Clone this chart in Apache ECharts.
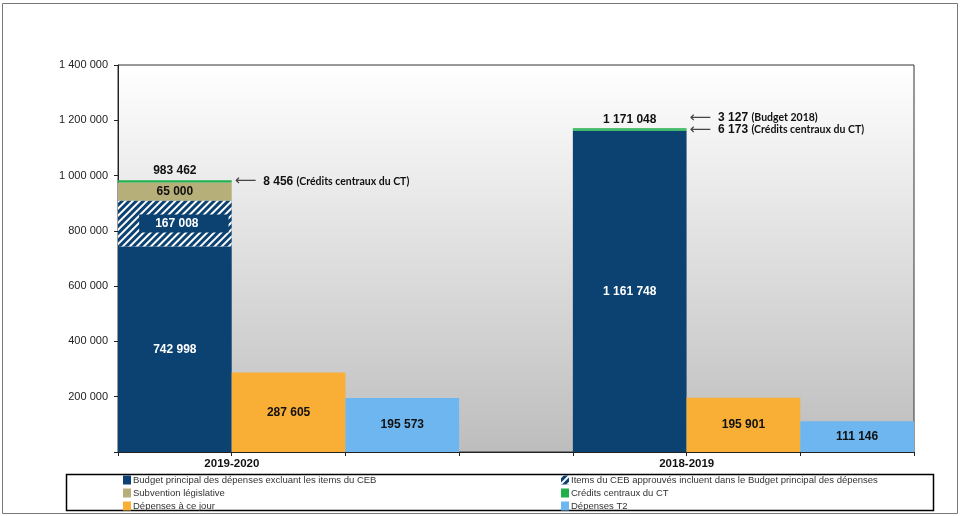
<!DOCTYPE html>
<html>
<head>
<meta charset="utf-8">
<script src="https://cdn.jsdelivr.net/npm/echarts@6/dist/echarts.min.js"></script>
<style>
  html, body { margin: 0; padding: 0; background: #fff; }
  #container { width: 960px; height: 516px; }
</style>
</head>
<body>
<div id="container"></div>
<script>
// 7 slots : 3 bars for each year, one empty slot between the groups
let slots = ['', '', '', '', '', '', ''];
let yearLabels = ['2019-2020', '', '', '', '2018-2019', '', ''];

let budgetPrincipal = [742998, null, null, null, 1161748, null, null];
let itemsCEB        = [167008, null, null, null, null, null, null];
let subvention      = [65000, null, null, null, null, null, null];
let creditsCT       = [8456, null, null, null, 6173, null, null];
let budget2018      = [null, null, null, null, 3127, null, null];
let depensesJour    = [null, 287605, null, null, null, 195901, null];
let depensesT2      = [null, null, 195573, null, null, null, 111146];

let navy = '#0c4271', khaki = '#b7af7a', green = '#1fb04c',
    orange = '#f9ae36', lightBlue = '#6db6f0';

function fmt(v) {
    return String(v).replace(/\B(?=(\d{3})+(?!\d))/g, ' ');
}

let totals = slots.map((s, i) => {
    let parts = [budgetPrincipal, itemsCEB, subvention, creditsCT, budget2018];
    let t = 0;
    parts.forEach(p => { t += p[i] || 0; });
    return t;
});
let totalData = totals.map(t => t ? 0 : null);

let dom = document.getElementById('container');
let chart = echarts.init(dom);

let barBase = { type: 'bar', stack: 'all', barWidth: '100%', barGap: '0%' };
let numLabel = {
    show: true, position: 'inside', fontFamily: 'Liberation Sans',
    fontWeight: 'bold', fontSize: 12, color: '#111',
    formatter: p => fmt(p.value)
};
let noteRich = {
    arr: { fontFamily: 'DejaVu Sans', fontSize: 15, color: '#444', padding: [0, 7, 0, 0] },
    num: { fontFamily: 'Liberation Sans', fontWeight: 'bold', fontSize: 12, color: '#111' },
    txt: { fontFamily: 'Lato', fontWeight: 'bold', fontSize: 10.5, color: '#111' }
};
let legendText = {
    fontFamily: 'Liberation Sans Narrow, Liberation Sans', fontSize: 9.5,
    color: '#333', padding: [0, 0, 0, -3]
};

chart.setOption({
    animation: false,
    textStyle: { fontFamily: 'Liberation Sans' },
    graphic: [
        { type: 'rect', shape: { x: 2.5, y: 3.5, width: 955, height: 510 },
          style: { fill: null, stroke: '#777', lineWidth: 1 }, z: -10 },
        { type: 'rect', shape: { x: 66.5, y: 474.5, width: 867, height: 36 },
          style: { fill: null, stroke: '#000', lineWidth: 1.5 } }
    ],
    grid: {
        left: 118, right: 46, top: 65, bottom: 64,
        show: true, borderColor: '#333', borderWidth: 1,
        backgroundColor: new echarts.graphic.LinearGradient(0, 0, 0, 1, [
            { offset: 0, color: '#ffffff' },
            { offset: 1, color: '#bdbdbd' }
        ])
    },
    legend: [
        {
            orient: 'vertical', left: 123, top: 475, padding: 0,
            icon: 'rect', itemWidth: 8, itemHeight: 9, itemGap: 3,
            textStyle: legendText,
            data: ['Budget principal des dépenses excluant les items du CEB',
                   'Subvention législative', 'Dépenses à ce jour']
        },
        {
            orient: 'vertical', left: 561, top: 475, padding: 0,
            icon: 'rect', itemWidth: 8, itemHeight: 9, itemGap: 3,
            textStyle: legendText,
            data: ['Items du CEB approuvés incluent dans le Budget principal des dépenses',
                   'Crédits centraux du CT', 'Dépenses T2']
        }
    ],
    xAxis: {
        type: 'category',
        data: yearLabels,
        axisLine: { lineStyle: { color: '#222' } },
        axisTick: { show: true, length: 4, interval: 0, lineStyle: { color: '#222' } },
        axisLabel: {
            interval: 0, margin: 6,
            formatter: v => v ? '{y|' + v + '}' : '',
            rich: { y: { fontWeight: 'bold', fontSize: 11.5, color: '#111', padding: [0, 0, 0, 114] } }
        }
    },
    yAxis: {
        type: 'value', min: 0, max: 1400000, interval: 200000,
        splitLine: { show: false },
        axisLine: { show: true, lineStyle: { color: '#222' } },
        axisTick: { show: true, length: 4, lineStyle: { color: '#222' } },
        axisLabel: {
            fontSize: 11, color: '#222', margin: 10,
            formatter: v => v === 0 ? '' : fmt(v)
        }
    },
    series: [
        Object.assign({}, barBase, {
            name: 'Budget principal des dépenses excluant les items du CEB',
            data: budgetPrincipal,
            itemStyle: { color: navy },
            label: Object.assign({}, numLabel, { color: '#fff' })
        }),
        Object.assign({}, barBase, {
            name: 'Items du CEB approuvés incluent dans le Budget principal des dépenses',
            data: itemsCEB,
            itemStyle: {
                color: navy,
                decal: { symbol: 'rect', symbolSize: 1, dashArrayX: [1, 0], dashArrayY: [2, 2.5],
                         rotation: -Math.PI / 4, color: '#ffffff' }
            },
            label: Object.assign({}, numLabel, {
                color: '#fff', backgroundColor: navy,
                padding: [3, 30, 3, 16], offset: [9, 0]
            })
        }),
        Object.assign({}, barBase, {
            name: 'Subvention législative',
            data: subvention,
            itemStyle: { color: khaki },
            label: numLabel
        }),
        Object.assign({}, barBase, {
            name: 'Crédits centraux du CT',
            data: creditsCT,
            itemStyle: { color: green },
            label: {
                show: true, position: 'right', distance: 3,
                formatter: p => '{arr|⟵}{num|' + fmt(p.value) + '} {txt|(Crédits centraux du CT)}',
                rich: noteRich
            }
        }),
        Object.assign({}, barBase, {
            name: 'Budget 2018',
            data: budget2018,
            itemStyle: { color: green },
            label: {
                show: true, position: 'right', distance: 3, offset: [0, -11],
                formatter: p => '{arr|⟵}{num|' + fmt(p.value) + '} {txt|(Budget 2018)}',
                rich: noteRich
            }
        }),
        Object.assign({}, barBase, {
            name: 'Total',
            data: totalData,
            itemStyle: { color: 'transparent' },
            label: Object.assign({}, numLabel, {
                position: 'top', distance: 3,
                formatter: p => fmt(totals[p.dataIndex])
            })
        }),
        Object.assign({}, barBase, {
            name: 'Dépenses à ce jour',
            data: depensesJour,
            itemStyle: { color: orange },
            label: numLabel
        }),
        Object.assign({}, barBase, {
            name: 'Dépenses T2',
            data: depensesT2,
            itemStyle: { color: lightBlue },
            label: numLabel
        })
    ]
});
</script>
</body>
</html>
